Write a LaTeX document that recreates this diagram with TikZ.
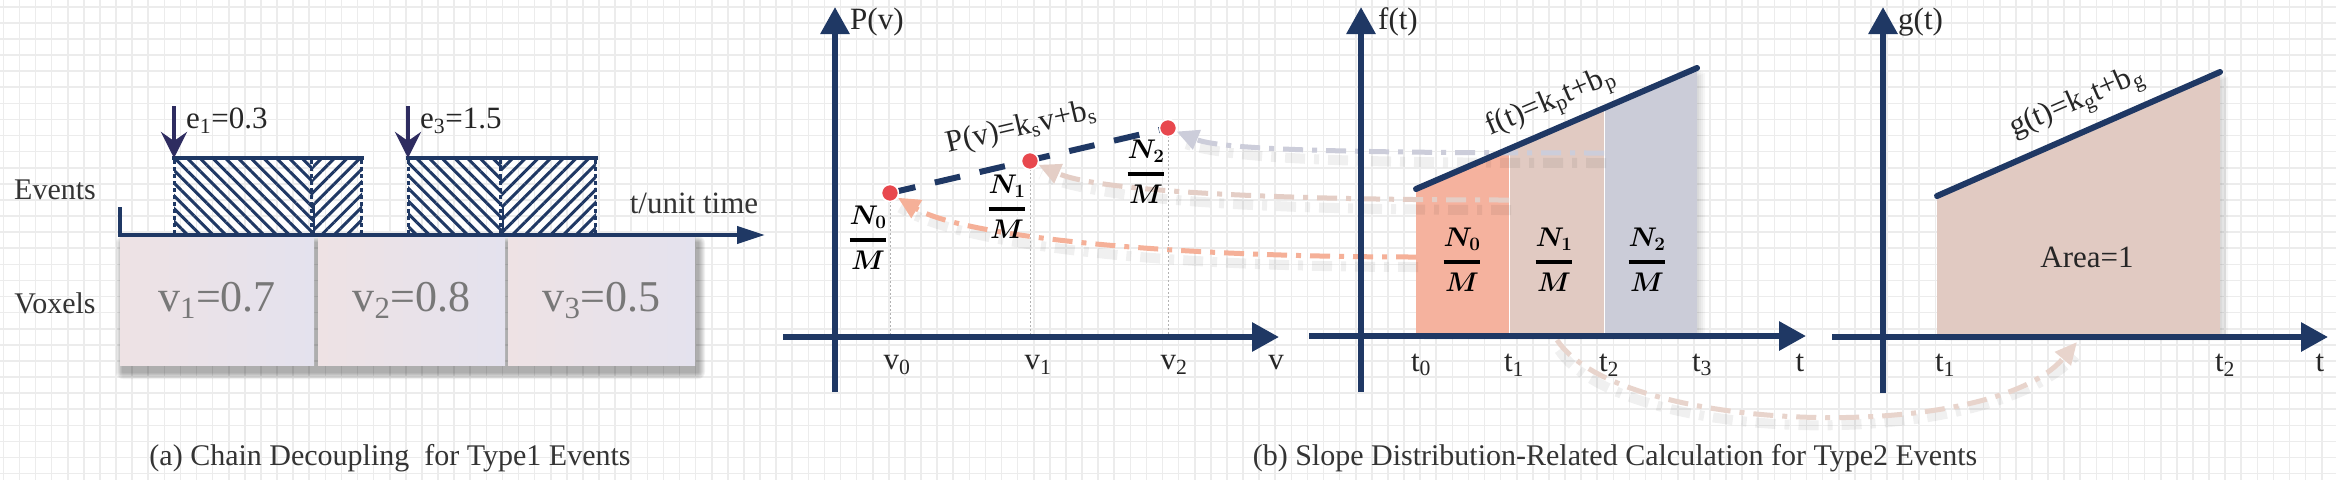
\documentclass[tikz,border=0pt]{standalone}
\usepackage{fix-cm}
\usepackage{fontspec}
\setmainfont{Liberation Serif}
\usetikzlibrary{arrows.meta,patterns.meta}
\definecolor{navyc}{RGB}{31,56,100}
\definecolor{evarrowc}{RGB}{46,44,96}
\definecolor{gridc}{RGB}{236,236,236}
\definecolor{dotred}{RGB}{232,72,78}
\definecolor{orangeA}{RGB}{245,176,152}
\definecolor{tanA}{RGB}{228,206,198}
\definecolor{grayA}{RGB}{204,205,218}
\definecolor{curveA}{RGB}{232,212,204}
\definecolor{regA}{RGB}{245,178,158}
\definecolor{regB}{RGB}{225,202,194}
\definecolor{regC}{RGB}{203,204,216}
\definecolor{voxL}{RGB}{238,226,228}
\definecolor{voxR}{RGB}{228,226,238}
\definecolor{voxtext}{RGB}{120,120,120}
\definecolor{captext}{RGB}{52,52,52}
\newcommand\softshadow[4]{%
  \foreach \rr in {1,...,7}{\fill[black,opacity=0.05,rounded corners=\rr pt] ({#1+3-\rr},{#2+7-\rr}) rectangle ({#3+3+\rr},{#4+7+\rr});}}
\newcommand\nfrac[1]{$\displaystyle{N_{#1}\above 3.2pt M}$}
\tikzset{
  gridline/.style={draw=gridc, line width=1.6pt},
  axarrow/.style={draw=navyc, line width=6pt, -{Triangle[length=27pt,width=28pt]}},
  lbl/.style={font=\fontsize{31pt}{33pt}\selectfont, text=black!85, inner sep=0pt},
  sidelbl/.style={font=\fontsize{30pt}{32pt}\selectfont, text=captext, inner sep=0pt},
  fracl/.style={font=\fontsize{27pt}{29pt}\selectfont\boldmath, inner sep=0pt},
  caplbl/.style={font=\fontsize{30pt}{32pt}\selectfont, text=captext, inner sep=0pt},
  voxbox/.style={minimum height=129pt, inner sep=0pt, left color=voxL, right color=voxR, draw=none, font=\fontsize{44pt}{46pt}\selectfont, text=voxtext},
  dotn/.style={circle, fill=dotred, draw=white, line width=1.5pt, minimum size=17pt, inner sep=0pt},
  dashdot/.style={line width=5pt, dash pattern=on 20pt off 9pt on 5pt off 9pt},
  dashshadow/.style={draw=black, opacity=0.06, line width=10pt, dash pattern=on 20pt off 9pt on 5pt off 9pt, transform canvas={xshift=2pt,yshift=-10pt}},
  conntip/.style={-{Triangle[length=22pt,width=20pt]}},
  evarrow/.style={draw=evarrowc, line width=4.5pt, -{Stealth[length=26pt,width=26pt,inset=9pt]}},
  dotv/.style={draw=black!30, line width=1pt, dash pattern=on 2pt off 2pt},
  evdot/.style={draw=navyc, line width=3pt, dash pattern=on 4pt off 3pt},
  hatchL/.style={pattern={Lines[angle=-45,distance=9pt,line width=3pt]}, pattern color=navyc},
  hatchR/.style={pattern={Lines[angle=45,distance=9pt,line width=3pt]}, pattern color=navyc},
  topline/.style={draw=navyc, line width=6pt, line cap=round}
}
\begin{document}
\begin{tikzpicture}[x=1pt,y=-1pt]
\useasboundingbox (0,0) rectangle (2336,480);
\fill[white] (0,0) rectangle (2336,480);
\foreach \i in {0,...,145} \draw[gridline] ({3.3+16.1*\i},0) -- ({3.3+16.1*\i},480);
\foreach \j in {0,...,29} \draw[gridline] (0,{6.7+16.1*\j}) -- (2336,{6.7+16.1*\j});

% ---------------- panel (a)
\softshadow{120}{236}{695}{365}
\node[voxbox, minimum width=194pt] (vox1) at (217,300.5) {v\textsubscript{1}=0.7};
\node[voxbox, minimum width=187pt] (vox2) at (411.5,300.5) {v\textsubscript{2}=0.8};
\node[voxbox, minimum width=187pt] (vox3) at (601.5,300.5) {v\textsubscript{3}=0.5};

\fill[hatchL] (174,158) rectangle (313,235);
\fill[hatchR] (313,158) rectangle (362,235);
\fill[hatchL] (408,158) rectangle (502,235);
\fill[hatchR] (502,158) rectangle (596,235);
\foreach \xx in {174,311,361,408,500,595} \draw[evdot] (\xx,160) -- (\xx,235);
\draw[navyc, line width=2pt] (314,205) -- (314,235);
\draw[navyc, line width=2pt] (503,205) -- (503,235);
\draw[navyc, line width=4pt] (172,158) -- (364,158);
\draw[navyc, line width=4pt] (406,158) -- (598,158);

\coordinate (e1top) at (174,106);
\coordinate (e1tip) at (174,158);
\coordinate (e3top) at (408,106);
\coordinate (e3tip) at (408,158);
\draw[evarrow] (e1top) -- (e1tip);
\draw[evarrow] (e3top) -- (e3tip);
\node[lbl, anchor=west] (e1lab) at (186,121) {e\textsubscript{1}=0.3};
\node[lbl, anchor=west] (e3lab) at (420,121) {e\textsubscript{3}=1.5};

\coordinate (tickA) at (120,207);
\coordinate (axA0) at (120,235);
\coordinate (axA1) at (765,235);
\draw[navyc, line width=4pt, line join=miter, -{Triangle[length=28pt,width=17pt]}] (tickA) -- (axA0) -- (axA1);
\node[lbl, text=captext] (tunit) at (694,203) {t/unit time};
\node[sidelbl] (events) at (55,190) {Events};
\node[sidelbl] (voxels) at (55,303) {Voxels};
\node[caplbl] (capA) at (390,458) {(a) Chain Decoupling\ \ for Type1 Events};

% ---------------- panel (b) coordinates
\coordinate (Pv0) at (835,392); \coordinate (Pv1) at (835,7);
\coordinate (Ph0) at (783,337); \coordinate (Ph1) at (1279,337);
\coordinate (Fv0) at (1361,392); \coordinate (Fv1) at (1361,7);
\coordinate (Fh0) at (1309,336); \coordinate (Fh1) at (1806,336);
\coordinate (Gv0) at (1883,393); \coordinate (Gv1) at (1883,7);
\coordinate (Gh0) at (1832,337); \coordinate (Gh1) at (2328,337);

\coordinate (pN0) at (890,193);
\coordinate (pN1) at (1030,161);
\coordinate (pN2) at (1168,128);

\coordinate (fT0) at (1416,189); \coordinate (fT1) at (1509,149);
\coordinate (fT2) at (1604,108); \coordinate (fT3) at (1697,68);
\coordinate (fB0) at (1416,335); \coordinate (fB1) at (1509,335);
\coordinate (fB2) at (1604,335); \coordinate (fB3) at (1697,335);
\coordinate (gT0) at (1937,196); \coordinate (gT1) at (2220,72);
\coordinate (gB0) at (1937,336); \coordinate (gB1) at (2220,336);

% region shadows
\foreach \s in {2,4,6,8}{
  \fill[black, opacity=0.035, transform canvas={xshift=\s pt, yshift=-0.6*\s pt}] (fB0) -- (fT0) -- (fT3) -- (fB3) -- cycle;
  \fill[black, opacity=0.035, transform canvas={xshift=\s pt, yshift=-0.6*\s pt}] (gB0) -- (gT0) -- (gT1) -- (gB1) -- cycle;
}
% regions
\fill[regA] (fB0) -- (fT0) -- (fT1) -- (fB1) -- cycle;
\fill[regB] (fB1) -- (fT1) -- (fT2) -- (fB2) -- cycle;
\fill[regC] (fB2) -- (fT2) -- (fT3) -- (fB3) -- cycle;
\draw[white, line width=1pt] (fT1) -- (fB1);
\draw[white, line width=1pt] (fT2) -- (fB2);
\fill[regB] (gB0) -- (gT0) -- (gT1) -- (gB1) -- cycle;

% P(v) points
\node[dotn] (N0) at (pN0) {};
\node[dotn] (N1) at (pN1) {};
\node[dotn] (N2) at (pN2) {};

% connectors
\coordinate (oS) at (1416,257);
\coordinate (tS) at (1509,200);
\coordinate (gS) at (1604,153);
\coordinate (cS) at (1557,340);
\coordinate (cE) at (2077,342);
\draw[dashshadow] (oS) .. controls (1150,257) and (960,235) .. (N0);
\draw[dashshadow] (tS) .. controls (1250,200) and (1095,190) .. (N1);
\draw[dashshadow] (gS) .. controls (1350,153) and (1222,150) .. (N2);
\draw[dashshadow] (cS) .. controls (1620,435) and (1990,445) .. (cE);
\draw[orangeA, dashdot, conntip] (oS) .. controls (1150,257) and (960,235) .. (N0);
\draw[tanA, dashdot, conntip] (tS) .. controls (1250,200) and (1095,190) .. (N1);
\draw[grayA, dashdot, conntip] (gS) .. controls (1350,153) and (1222,150) .. (N2);
\draw[curveA, dashdot, conntip] (cS) .. controls (1620,435) and (1990,445) .. (cE);

% P(v) graph
\draw[dotv] (pN0) -- (pN0 |- Ph0);
\draw[dotv] (pN1) -- (pN1 |- Ph0);
\draw[dotv] (pN2) -- (pN2 |- Ph0);
\draw[navyc, line width=6pt, dash pattern=on 26pt off 20pt] (pN0) -- (pN2);
\node[dotn] at (pN0) {};
\node[dotn] at (pN1) {};
\node[dotn] at (pN2) {};

% axes
\draw[axarrow] (Pv0) -- (Pv1);
\draw[axarrow] (Ph0) -- (Ph1);
\draw[axarrow] (Fv0) -- (Fv1);
\draw[axarrow] (Fh0) -- (Fh1);
\draw[axarrow] (Gv0) -- (Gv1);
\draw[axarrow] (Gh0) -- (Gh1);

% top lines
\draw[topline] (fT0) -- (fT3);
\draw[topline] (gT0) -- (gT1);

% labels P(v)
\node[lbl, anchor=west] (Plab) at (850,22) {P(v)};
\node[lbl, rotate=13] (Pfun) at (1021,128) {P(v)=k\textsubscript{s}v+b\textsubscript{s}};
\node[fracl] (pf0) at (868,238) {\nfrac{0}};
\node[fracl] (pf1) at (1007,207) {\nfrac{1}};
\node[fracl] (pf2) at (1146,172) {\nfrac{2}};
\node[lbl] (v0) at (897,365) {v\textsubscript{0}};
\node[lbl] (v1) at (1038,365) {v\textsubscript{1}};
\node[lbl] (v2) at (1174,365) {v\textsubscript{2}};
\node[lbl] (vv) at (1276,363) {v};

% labels f(t)
\node[lbl, anchor=west] (flab) at (1378,22) {f(t)};
\node[lbl, rotate=23] (ffun) at (1551,103) {f(t)=k\textsubscript{p}t+b\textsubscript{p}};
\node[fracl] (ff0) at (1462,260) {\nfrac{0}};
\node[fracl] (ff1) at (1554,260) {\nfrac{1}};
\node[fracl] (ff2) at (1647,260) {\nfrac{2}};
\node[lbl] (t0) at (1421,365) {t\textsubscript{0}};
\node[lbl] (t1) at (1514,365) {t\textsubscript{1}};
\node[lbl] (t2) at (1609,365) {t\textsubscript{2}};
\node[lbl] (t3) at (1702,365) {t\textsubscript{3}};
\node[lbl] (tt) at (1800,363) {t};

% labels g(t)
\node[lbl, anchor=west] (glab) at (1898,22) {g(t)};
\node[lbl, rotate=23.4] (gfun) at (2077,103) {g(t)=k\textsubscript{g}t+b\textsubscript{g}};
\node[lbl] (area) at (2087,257) {Area=1};
\node[lbl] (gt1) at (1945,365) {t\textsubscript{1}};
\node[lbl] (gt2) at (2225,365) {t\textsubscript{2}};
\node[lbl] (gtt) at (2320,363) {t};

\node[caplbl] (capB) at (1615,458) {(b) Slope Distribution-Related Calculation for Type2 Events};
\end{tikzpicture}
\end{document}
